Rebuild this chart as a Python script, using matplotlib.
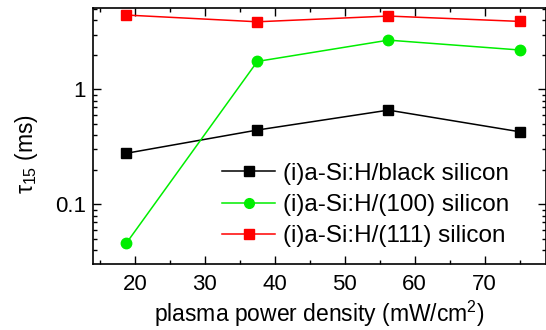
import matplotlib
matplotlib.use("Agg")
import matplotlib.pyplot as plt
from matplotlib.lines import Line2D
from matplotlib.ticker import MultipleLocator, LogLocator, NullFormatter, FixedLocator, FixedFormatter

plt.rcParams['font.family'] = ['Liberation Sans', 'DejaVu Sans']
plt.rcParams['mathtext.fontset'] = 'custom'
plt.rcParams['mathtext.rm'] = 'Liberation Sans'
plt.rcParams['mathtext.it'] = 'Liberation Sans'

power = [18.75, 37.5, 56.25, 75.0]
black_si = [0.278, 0.443, 0.66, 0.428]
black_err = [0.015, 0.02, 0.03, 0.02]
si100 = [0.0458, 1.75, 2.68, 2.2]
si100_err = [0.003, 0.15, 0.2, 0.18]
si111 = [4.43, 3.87, 4.34, 3.9]
si111_err = [0.2, 0.18, 0.18, 0.18]
labels = ["(i)a-Si:H/black silicon", "(i)a-Si:H/(100) silicon", "(i)a-Si:H/(111) silicon"]
colors = ['black', '#00ee00', '#ff0000']
markers = ['s', 'o', 's']

fig = plt.figure(figsize=(5.46, 3.30), dpi=100)
ax = fig.add_axes([93/546, 1-264/330, 452.5/546, 256/330])

series = [(black_si, black_err), (si100, si100_err), (si111, si111_err)]
handles = []
for (vals, err), c, m, lab in zip(series, colors, markers, labels):
    ms = 7.5 if m == 'o' else 7
    ax.errorbar(power, vals, yerr=err, color=c, marker=m, ms=ms, lw=1.1,
                capsize=2, elinewidth=1)
    handles.append(Line2D([], [], color=c, marker=m, ms=ms - 0.5, lw=1.1, label=lab))

ax.set_yscale('log')
ax.set_xlim(14.0, 78.7)
ax.set_ylim(0.0303, 5.1)

ax.xaxis.set_major_locator(MultipleLocator(10))
ax.xaxis.set_minor_locator(MultipleLocator(5))
ax.yaxis.set_major_locator(FixedLocator([0.1, 1]))
ax.yaxis.set_major_formatter(FixedFormatter(['0.1', '1']))
ax.yaxis.set_minor_locator(LogLocator(base=10, subs=range(2, 10)))
ax.yaxis.set_minor_formatter(NullFormatter())

ax.tick_params(which='both', direction='in', top=True, right=True, labelsize=16, width=1, colors='black')
ax.tick_params(which='major', length=6)
ax.tick_params(axis='x', which='major', pad=7)
ax.tick_params(axis='y', which='major', pad=5)
ax.tick_params(which='minor', length=3)
for s in ax.spines.values():
    s.set_linewidth(1.2)

ax.set_xlabel('plasma power density (mW/cm$^2$)', fontsize=16.5, labelpad=3)
ax.set_ylabel(r'$\tau_{15}$ (ms)', fontsize=16.5)
ax.yaxis.set_label_coords((40 - 93) / 452.5, 0.43)

leg = fig.legend(handles=handles, loc='center left', bbox_to_anchor=(222/546, 1-205/330),
                 frameon=False, fontsize=17.5, handlelength=2.2, handletextpad=0.3,
                 labelspacing=0.38, borderpad=0, borderaxespad=0)

fig.savefig('out.png', dpi=100)
